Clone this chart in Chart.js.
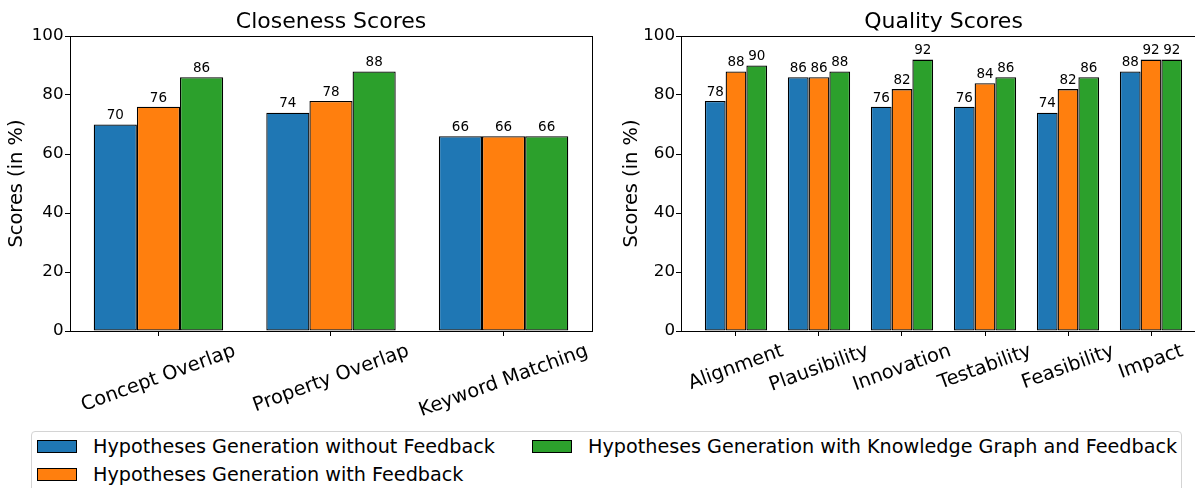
<!DOCTYPE html>
<html>
<head>
<meta charset="utf-8">
<script src="https://cdn.jsdelivr.net/npm/chart.js@4.4.1/dist/chart.umd.min.js"></script>
<style>
  html, body { margin: 0; padding: 0; background: #fff; }
  body { width: 1195px; height: 488px; overflow: hidden; position: relative; font-family: "DejaVu Sans", sans-serif; }
  .plot { position: absolute; top: 0; height: 430px; }
  #leftBox { left: 0; width: 600px; }
  #rightBox { left: 600px; width: 606px; }
  .legend { position: absolute; left: 31px; top: 431px; width: 1151px; height: 80px; border: 1px solid #d4d4d4; border-radius: 4px; box-sizing: border-box; }
  .legend-item { position: absolute; display: flex; align-items: center; height: 13px; font-size: 19.2px; color: #000; white-space: nowrap; }
  .swatch { width: 40px; height: 13px; border: 1px solid #000; box-sizing: border-box; margin-right: 16px; flex: none; }
</style>
</head>
<body>
<div class="plot" id="leftBox"><canvas id="closenessChart"></canvas></div>
<div class="plot" id="rightBox"><canvas id="qualityChart"></canvas></div>
<div class="legend" id="legend"></div>

<script>
const seriesLabels = [
  "Hypotheses Generation without Feedback",
  "Hypotheses Generation with Feedback",
  "Hypotheses Generation with Knowledge Graph and Feedback"
];
const seriesColors = ["#1f77b4", "#ff7f0e", "#2ca02c"];

const closenessCats = ["Concept Overlap", "Property Overlap", "Keyword Matching"];
const closenessNoFb = [70, 74, 66];
const closenessFb = [76, 78, 66];
const closenessKgFb = [86, 88, 66];

const qualityCats = ["Alignment", "Plausibility", "Innovation", "Testability", "Feasibility", "Impact"];
const qualityNoFb = [78, 86, 76, 76, 74, 88];
const qualityFb = [88, 86, 82, 84, 82, 92];
const qualityKgFb = [90, 88, 92, 86, 86, 92];

const yTicks = [0, 20, 40, 60, 80, 100];

const FONT = "DejaVu Sans";
Chart.defaults.font.family = FONT;
Chart.defaults.color = "#000";

// spines on all four sides, drawn over the bars
const framePlugin = {
  id: "frame",
  afterDraw(chart) {
    const { ctx, chartArea: a } = chart;
    ctx.save();
    ctx.strokeStyle = "#000";
    ctx.lineWidth = 1;
    ctx.strokeRect(Math.round(a.left) + 0.5, Math.round(a.top) + 0.5,
      Math.round(a.right - a.left), Math.round(a.bottom - a.top));
    ctx.restore();
  }
};

const barValuesPlugin = {
  id: "barValues",
  afterDatasetsDraw(chart) {
    const ctx = chart.ctx;
    ctx.save();
    ctx.font = "13.5px '" + FONT + "'";
    ctx.fillStyle = "#000";
    ctx.textAlign = "center";
    ctx.textBaseline = "bottom";
    chart.data.datasets.forEach((ds, i) => {
      chart.getDatasetMeta(i).data.forEach((bar, j) => {
        ctx.fillText(String(ds.data[j].y), bar.x, bar.y - 2);
      });
    });
    ctx.restore();
  }
};

// category labels rotated 20deg, centred on their tick (like matplotlib)
const slantedLabelsPlugin = {
  id: "slantedLabels",
  afterDraw(chart) {
    const labels = chart.data.labels;
    const scale = chart.scales.x;
    const ctx = chart.ctx;
    const angle = 20 * Math.PI / 180;
    const size = 19.4;
    ctx.save();
    ctx.font = size + "px '" + FONT + "'";
    ctx.fillStyle = "#000";
    ctx.textAlign = "center";
    ctx.textBaseline = "middle";
    labels.forEach((label, i) => {
      const w = ctx.measureText(label).width;
      const h = size * 1.16;
      const cy = scale.top + 9 + (w * Math.sin(angle) + h * Math.cos(angle)) / 2;
      ctx.save();
      ctx.translate(scale.getPixelForValue(i), cy);
      ctx.rotate(-angle);
      ctx.fillText(label, 0, 0);
      ctx.restore();
    });
    ctx.restore();
  }
};

function makeXScale(cats) {
  const pad = 0.05 * (cats.length - 0.25);
  return {
    type: "linear",
    min: -0.375 - pad,
    max: cats.length - 1 + 0.375 + pad,
    offset: false,
    afterBuildTicks: s => { s.ticks = cats.map((c, i) => ({ value: i })); },
    afterFit: s => { s.height = 99; },
    ticks: { display: false },
    grid: { display: true, drawOnChartArea: false, drawTicks: true, tickLength: 5, color: "#000", offset: false },
    border: { display: false }
  };
}

function makeYScale(width, titlePad, tickPad) {
  return {
    min: 0,
    max: 100,
    afterBuildTicks: s => { s.ticks = yTicks.map(v => ({ value: v })); },
    afterFit: s => { s.width = width; },
    ticks: { font: { size: 16.7 }, color: "#000", padding: tickPad },
    grid: { drawOnChartArea: false, tickLength: 5, color: "#000" },
    border: { display: false },
    title: {
      display: true,
      text: "Scores (in %)",
      font: { size: 19.4 },
      color: "#000",
      padding: { top: titlePad, bottom: 0 }
    }
  };
}

function makeChart(canvasId, title, cats, seriesValues, yWidth, rightPad, titlePad, tickPad) {
  const ctx = document.getElementById(canvasId).getContext("2d");
  return new Chart(ctx, {
    type: "bar",
    data: {
      labels: cats,
      datasets: seriesValues.map((vals, k) => ({
        label: seriesLabels[k],
        data: vals.map((v, i) => ({ x: i, y: v })),
        backgroundColor: seriesColors[k],
        borderColor: "#000",
        borderWidth: 1.3,
        borderSkipped: false,
        categoryPercentage: 0.75,
        barPercentage: 1
      }))
    },
    options: {
      responsive: true,
      maintainAspectRatio: false,
      animation: false,
      layout: { padding: { left: 0, top: 0, bottom: 0, right: rightPad } },
      plugins: {
        legend: { display: false },
        tooltip: { enabled: false },
        title: {
          display: true,
          text: title,
          fullSize: false,
          color: "#000",
          font: { size: 22, weight: "normal" },
          padding: { top: 8.6, bottom: 1 }
        }
      },
      scales: {
        x: makeXScale(cats),
        y: makeYScale(yWidth, titlePad, tickPad)
      }
    },
    plugins: [barValuesPlugin, slantedLabelsPlugin, framePlugin]
  });
}

function buildLegend() {
  const box = document.getElementById("legend");
  const spots = [[5, 8], [5, 36], [500, 8]];
  seriesLabels.forEach((label, k) => {
    const item = document.createElement("div");
    item.className = "legend-item";
    item.style.left = spots[k][0] + "px";
    item.style.top = spots[k][1] + "px";
    const sw = document.createElement("span");
    sw.className = "swatch";
    sw.style.background = seriesColors[k];
    const txt = document.createElement("span");
    txt.textContent = label;
    item.appendChild(sw);
    item.appendChild(txt);
    box.appendChild(item);
  });
}

makeChart("closenessChart", "Closeness Scores", closenessCats,
  [closenessNoFb, closenessFb, closenessKgFb], 70, 8, 5.4, 1.5);
makeChart("qualityChart", "Quality Scores", qualityCats,
  [qualityNoFb, qualityFb, qualityKgFb], 81, 0, 20.4, 1);
buildLegend();
</script>
</body>
</html>
